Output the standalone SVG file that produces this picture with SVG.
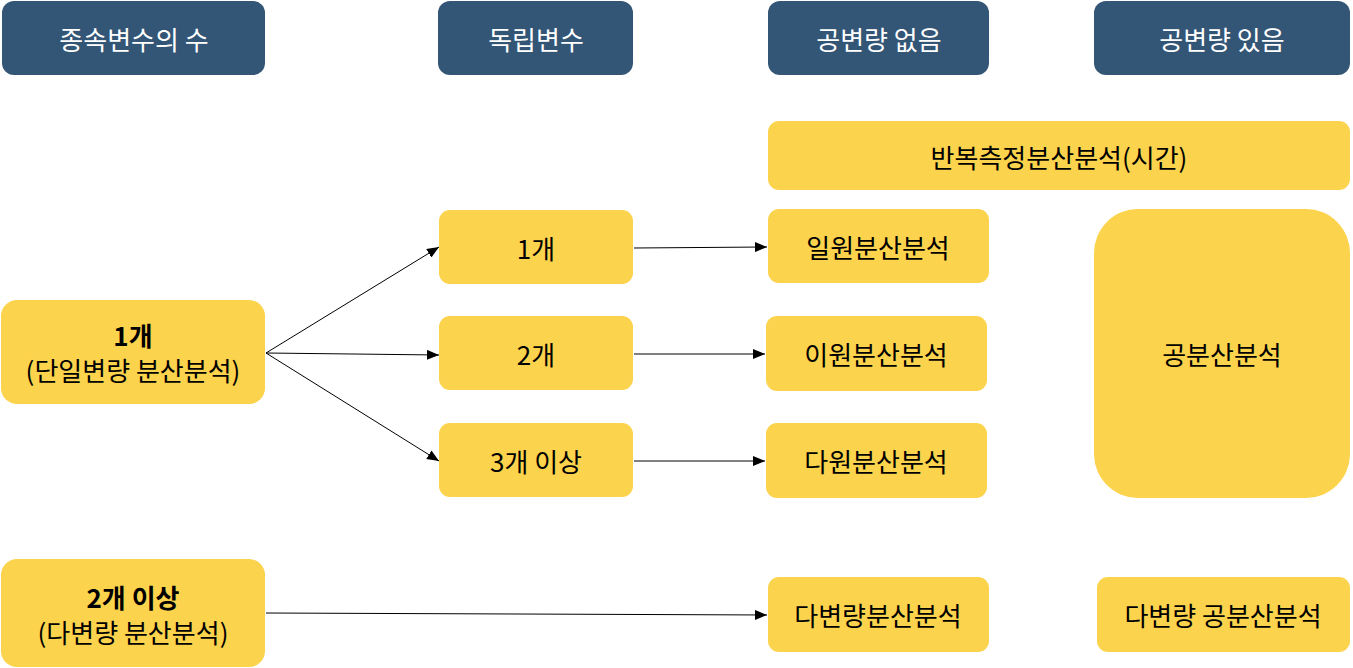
<svg xmlns="http://www.w3.org/2000/svg" width="1353" height="668" viewBox="0 0 1353 668">
<style>
.hd{fill:#335576}
.nd{fill:#FCD34C}
.ht{fill:#ffffff;font-family:"Noto Sans CJK KR","Noto Sans",sans-serif;font-size:26px;text-anchor:middle;dominant-baseline:central}
.t{fill:#000000;font-family:"Noto Sans CJK KR","Noto Sans",sans-serif;font-size:26px;text-anchor:middle;dominant-baseline:central}
.b{font-weight:bold}
.c{stroke:#000;stroke-width:1;fill:none;marker-end:url(#ar)}
</style>
<defs>
<marker id="ar" markerWidth="12" markerHeight="10" refX="12" refY="5" orient="auto" markerUnits="userSpaceOnUse">
<path d="M0,0 L12,5 L0,10 Z" fill="#000"/>
</marker>
</defs>
<g id="h1"><rect class="hd" x="2" y="1" width="263" height="74" rx="12"/><text class="ht" x="134" y="38">종속변수의 수</text></g>
<g id="h2"><rect class="hd" x="438" y="1" width="195" height="74" rx="12"/><text class="ht" x="536" y="38">독립변수</text></g>
<g id="h3"><rect class="hd" x="768" y="1" width="221" height="74" rx="12"/><text class="ht" x="879" y="38">공변량 없음</text></g>
<g id="h4"><rect class="hd" x="1094" y="1" width="256" height="74" rx="12"/><text class="ht" x="1222" y="38">공변량 있음</text></g>

<g id="rm"><rect class="nd" x="768" y="121" width="582" height="69" rx="11"/><text class="t" x="1059" y="156">반복측정분산분석(시간)</text></g>
<g id="dv1"><rect class="nd" x="1" y="300" width="264" height="104" rx="16"/><text class="t b" x="133" y="334">1개</text><text class="t" x="133" y="369">(단일변량 분산분석)</text></g>
<g id="dv2"><rect class="nd" x="1" y="559" width="264" height="108" rx="16"/><text class="t b" x="133" y="596">2개 이상</text><text class="t" x="133" y="631">(다변량 분산분석)</text></g>
<g id="iv1"><rect class="nd" x="439" y="210" width="194" height="74" rx="11"/><text class="t" x="536" y="247">1개</text></g>
<g id="iv2"><rect class="nd" x="439" y="316" width="194" height="74" rx="11"/><text class="t" x="536" y="353">2개</text></g>
<g id="iv3"><rect class="nd" x="439" y="423" width="194" height="74" rx="11"/><text class="t" x="536" y="460">3개 이상</text></g>
<g id="a1"><rect class="nd" x="768" y="209" width="221" height="74" rx="11"/><text class="t" x="878" y="246">일원분산분석</text></g>
<g id="a2"><rect class="nd" x="766" y="316" width="221" height="75" rx="11"/><text class="t" x="876" y="353">이원분산분석</text></g>
<g id="a3"><rect class="nd" x="766" y="423" width="221" height="75" rx="11"/><text class="t" x="876" y="460">다원분산분석</text></g>
<g id="ma"><rect class="nd" x="768" y="577" width="221" height="75" rx="11"/><text class="t" x="878" y="614">다변량분산분석</text></g>
<g id="anc"><rect class="nd" x="1094" y="209" width="256" height="289" rx="44"/><text class="t" x="1222" y="353">공분산분석</text></g>
<g id="manc"><rect class="nd" x="1097" y="577" width="253" height="75" rx="11"/><text class="t" x="1223" y="614">다변량 공분산분석</text></g>

<g id="connectors">
<line class="c" x1="266" y1="353" x2="439" y2="247"/>
<line class="c" x1="266" y1="353" x2="439" y2="355"/>
<line class="c" x1="266" y1="353" x2="439" y2="461"/>
<line class="c" x1="634" y1="248" x2="767" y2="247"/>
<line class="c" x1="634" y1="354" x2="765" y2="354"/>
<line class="c" x1="634" y1="461" x2="765" y2="461"/>
<line class="c" x1="266" y1="613" x2="767" y2="615"/>
</g>
</svg>
